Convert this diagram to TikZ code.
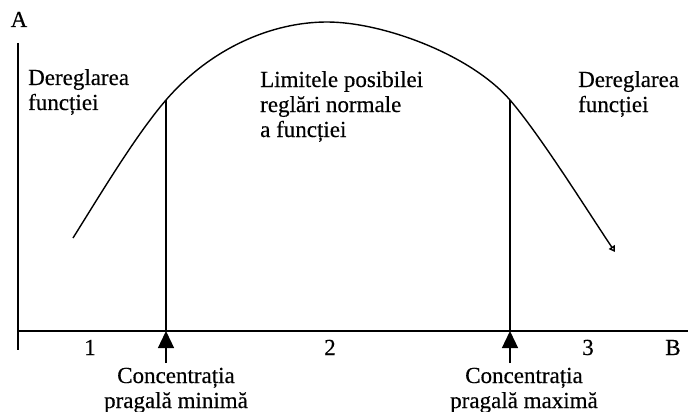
\documentclass[tikz,border=0pt]{standalone}
\usepackage{fontspec}
\setmainfont{Liberation Serif}[FakeBold=0.4]
\usetikzlibrary{arrows.meta}
\begin{document}
\begin{tikzpicture}[x=1pt,y=-1pt,
  axisline/.style={line width=1.4pt},
  curveline/.style={line width=1.4pt},
  lbl/.style={inner sep=0pt,anchor=base west,align=left,font=\fontsize{23}{25}\selectfont},
  lblc/.style={inner sep=0pt,anchor=base,align=center,font=\fontsize{23}{25}\selectfont},
  uparrow/.style={line width=1.3pt,-{Triangle[length=17pt,width=16pt]}}]
\useasboundingbox (0,0) rectangle (688,412);
% axes
\coordinate (ytop) at (18,43);
\coordinate (ybot) at (18,350);
\coordinate (xl) at (18,331);
\coordinate (xr) at (688,331);
\draw[axisline] (ytop) -- (ybot);
\draw[axisline] (xl) -- (xr);
\node[lblc] (A) at (19,27) {A};
\node[lblc] (B) at (673,355) {B};
% curve
\coordinate (s0) at (73,238);
\coordinate (c1) at (166,100);
\coordinate (top) at (327,22);
\coordinate (c2) at (510,100);
\coordinate (s1) at (615,252);
\draw[curveline,-{Triangle[open,length=6pt,width=7pt]}]
  (s0) .. controls (103,190) and (136,135) .. (c1)
       .. controls (211,48) and (272,22) .. (top)
       .. controls (382,22) and (470,54) .. (c2)
       .. controls (540,135) and (585,207) .. (s1);
% thresholds
\coordinate (c1b) at (166,331);
\coordinate (c2b) at (510,331);
\draw[axisline] (c1) -- (c1b);
\draw[axisline] (c2) -- (c2b);
\coordinate (a1s) at (166,363);
\coordinate (a2s) at (510,363);
\draw[uparrow] (a1s) -- (c1b);
\draw[uparrow] (a2s) -- (c2b);
% labels
\node[lbl] (dl) at (28,110) {Dereglarea\\funcției};
\node[lbl] (lim) at (260,137) {Limitele posibilei\\reglări normale\\a funcției};
\node[lbl] (dr) at (578,112) {Dereglarea\\funcției};
\node[lblc] (n1) at (90,355) {1};
\node[lblc] (n2) at (330,355) {2};
\node[lblc] (n3) at (588,355) {3};
\node[lblc] (cmin) at (176,408) {Concentrația\\pragală minimă};
\node[lblc] (cmax) at (524,408) {Concentrația\\pragală maximă};
\end{tikzpicture}
\end{document}
